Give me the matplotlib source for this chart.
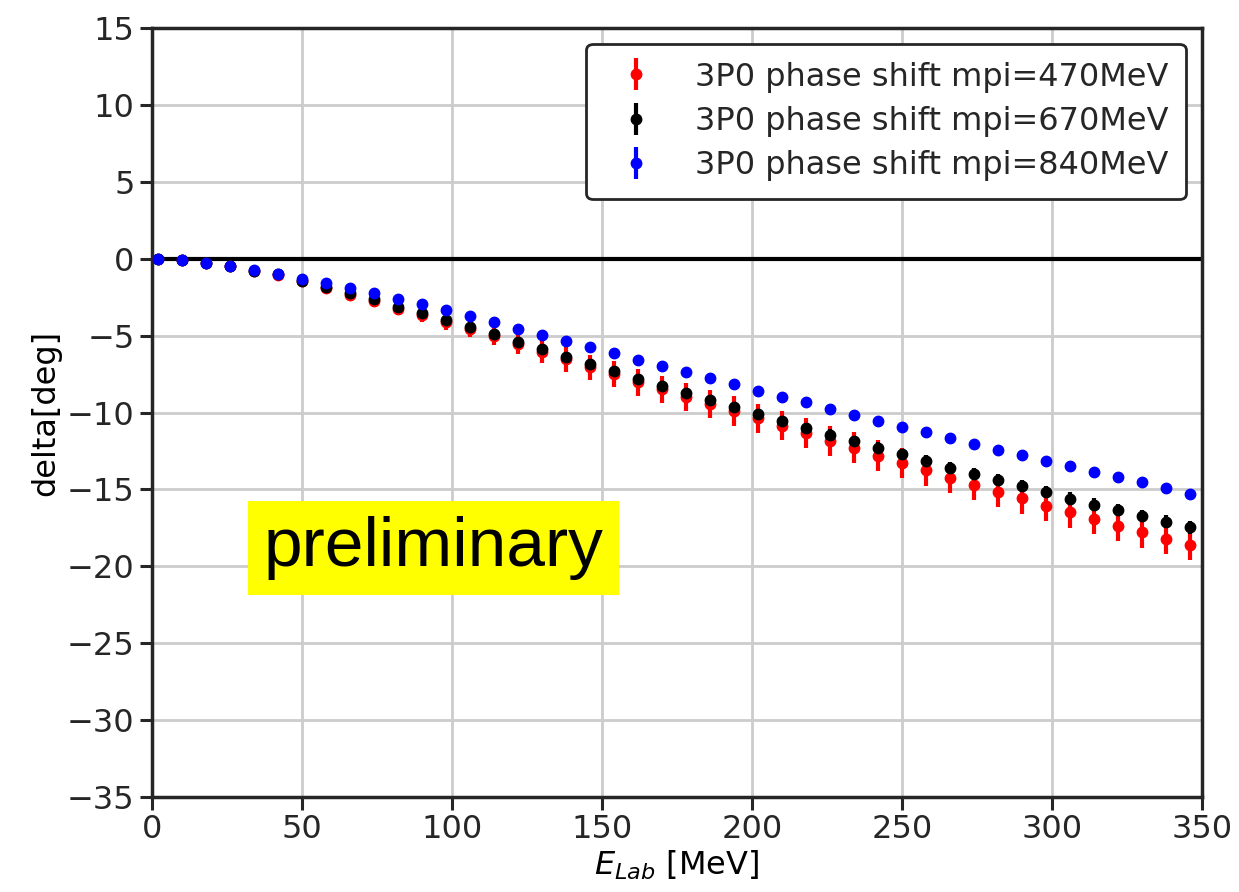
import matplotlib
matplotlib.use("Agg")
import matplotlib.pyplot as plt

# E_Lab grid [MeV]
e_lab = [2, 10, 18, 26, 34, 42, 50, 58, 66, 74, 82, 90, 98, 106, 114, 122,
         130, 138, 146, 154, 162, 170, 178, 186, 194, 202, 210, 218, 226,
         234, 242, 250, 258, 266, 274, 282, 290, 298, 306, 314, 322, 330,
         338, 346]

# mpi = 470 MeV
d470 = [0.0, -0.1, -0.28, -0.5, -0.8, -1.06, -1.48, -1.92, -2.33, -2.75, -3.25,
        -3.66, -4.12, -4.6, -5.05, -5.55, -6.05, -6.55, -7.05, -7.52, -8.02,
        -8.5, -8.98, -9.45, -9.9, -10.38, -10.85, -11.32, -11.85, -12.3, -12.8,
        -13.28, -13.76, -14.25, -14.71, -15.15, -15.58, -16.06, -16.49, -16.93,
        -17.36, -17.8, -18.23, -18.62]
e470 = [0.02, 0.04, 0.07, 0.1, 0.13, 0.17, 0.22, 0.27, 0.32, 0.37, 0.42, 0.46,
        0.5, 0.52, 0.55, 0.63, 0.72, 0.8, 0.82, 0.84, 0.88, 0.9, 0.92, 0.92,
        0.95, 0.95, 0.97, 0.97, 1.0, 1.0, 1.0, 1.0, 1.0, 1.0, 1.0, 1.0, 1.0,
        1.0, 1.0, 1.0, 1.0, 1.0, 1.0, 1.0]

# mpi = 670 MeV
d670 = [0.0, -0.1, -0.27, -0.48, -0.77, -1.02, -1.43, -1.86, -2.25, -2.64, -3.12,
        -3.51, -3.97, -4.44, -4.9, -5.4, -5.87, -6.37, -6.83, -7.3, -7.8, -8.28,
        -8.75, -9.21, -9.64, -10.1, -10.57, -11.01, -11.44, -11.87, -12.29,
        -12.72, -13.16, -13.59, -14.0, -14.41, -14.8, -15.19, -15.6, -15.99,
        -16.34, -16.73, -17.1, -17.46]
e670 = [0.01, 0.02, 0.03, 0.05, 0.07, 0.09, 0.11, 0.13, 0.15, 0.17, 0.19, 0.2,
        0.22, 0.23, 0.24, 0.25, 0.26, 0.27, 0.28, 0.29, 0.3, 0.3, 0.31, 0.32,
        0.33, 0.33, 0.34, 0.35, 0.35, 0.36, 0.36, 0.37, 0.38, 0.38, 0.39, 0.39,
        0.4, 0.4, 0.41, 0.41, 0.42, 0.42, 0.43, 0.43]

# mpi = 840 MeV
d840 = [0.0, -0.1, -0.26, -0.47, -0.75, -0.97, -1.32, -1.58, -1.93, -2.25, -2.64,
        -2.97, -3.34, -3.73, -4.11, -4.55, -4.94, -5.33, -5.76, -6.13, -6.59,
        -6.96, -7.39, -7.78, -8.15, -8.58, -8.97, -9.34, -9.77, -10.14, -10.53,
        -10.92, -11.29, -11.68, -12.05, -12.42, -12.79, -13.16, -13.5, -13.87,
        -14.22, -14.54, -14.93, -15.3]
e840 = [0.01, 0.01, 0.01, 0.02, 0.02, 0.02, 0.03, 0.03, 0.03, 0.03, 0.04, 0.04,
        0.04, 0.04, 0.04, 0.05, 0.05, 0.05, 0.05, 0.05, 0.05, 0.05, 0.06, 0.06,
        0.06, 0.06, 0.06, 0.06, 0.06, 0.06, 0.06, 0.06, 0.06, 0.06, 0.06, 0.06,
        0.06, 0.06, 0.06, 0.06, 0.06, 0.06, 0.06, 0.06]

plt.rcParams["font.family"] = ["DejaVu Sans"]
plt.rcParams["font.size"] = 23

fig = plt.figure(figsize=(12.39, 8.92), dpi=100)
ax = fig.add_axes([0.1227, 0.1065, 0.8473, 0.8621])

ax.grid(True, color="#cccccc", linewidth=2)
ax.axhline(0, color="black", linewidth=3, zorder=2)

ax.errorbar(e_lab, d470, yerr=e470, fmt="o", color="red", ms=7.5, elinewidth=3,
            capsize=0, label="3P0 phase shift mpi=470MeV", zorder=3)
ax.errorbar(e_lab, d670, yerr=e670, fmt="o", color="black", ms=7.5, elinewidth=3,
            capsize=0, label="3P0 phase shift mpi=670MeV", zorder=4)
ax.errorbar(e_lab, d840, yerr=e840, fmt="o", color="blue", ms=7.5, elinewidth=3,
            capsize=0, label="3P0 phase shift mpi=840MeV", zorder=5)

ax.set_xlim(0, 350)
ax.set_ylim(-35, 15)
ax.set_xticks([0, 50, 100, 150, 200, 250, 300, 350])
ax.set_yticks([-35, -30, -25, -20, -15, -10, -5, 0, 5, 10, 15])
ax.set_xlabel("$E_{Lab}$ [MeV]", fontsize=23, labelpad=2)
ax.set_ylabel("delta[deg]", fontsize=23, labelpad=4)

for s in ax.spines.values():
    s.set_color("#262626")
    s.set_linewidth(2.5)
ax.tick_params(direction="out", length=9, width=2.2, colors="#262626",
               labelsize=23, labelcolor="#262626")

leg = ax.legend(loc="upper right", fontsize=23, frameon=True, fancybox=True,
                edgecolor="#262626", framealpha=1, handletextpad=0.85,
                borderpad=0.55, labelspacing=0.42)
leg.get_frame().set_linewidth(2)
for t in leg.get_texts():
    t.set_color("#262626")

ax.text(93.8, -18.8, "preliminary", fontsize=50, family="Liberation Sans",
        ha="center", va="center", color="black", zorder=6,
        bbox=dict(facecolor="yellow", edgecolor="none", pad=11))

fig.savefig("out.png", dpi=100)
